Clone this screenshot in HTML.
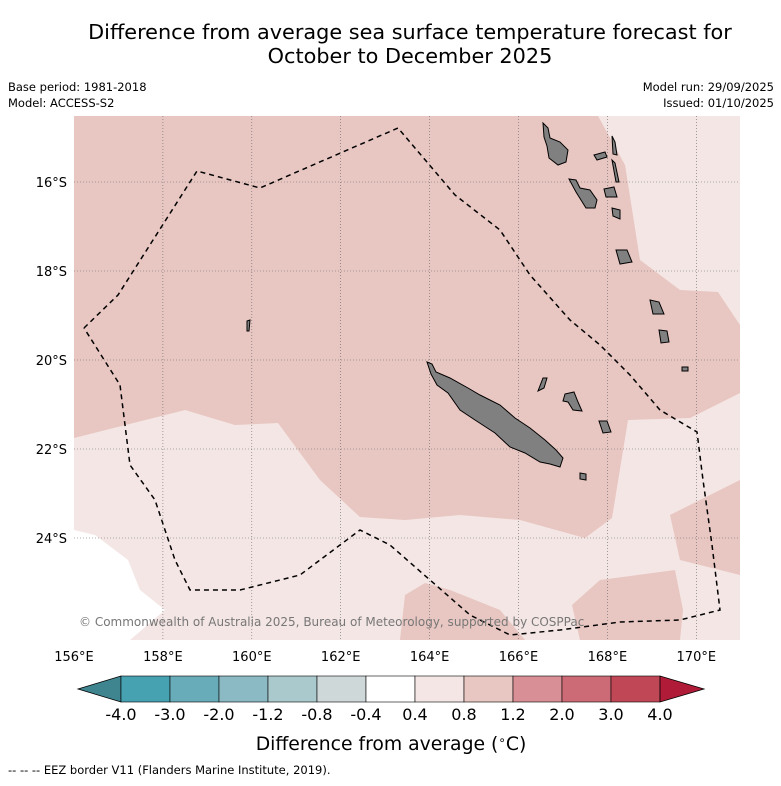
<!DOCTYPE html>
<html><head><meta charset="utf-8"><style>
body{margin:0;background:#fff;}
svg text{font-family:"DejaVu Sans","Liberation Sans",sans-serif;}
</style></head><body>
<svg width="781" height="781" viewBox="0 0 781 781">
<text x="410" y="39" font-size="20.8" text-anchor="middle">Difference from average sea surface temperature forecast for</text>
<text x="410" y="63" font-size="20.8" text-anchor="middle">October to December 2025</text>
<text x="8" y="91" font-size="11.5">Base period: 1981-2018</text>
<text x="8" y="107" font-size="11.5">Model: ACCESS-S2</text>
<text x="774" y="91" font-size="11.5" text-anchor="end">Model run: 29/09/2025</text>
<text x="774" y="107" font-size="11.5" text-anchor="end">Issued: 01/10/2025</text>
<defs><clipPath id="mc"><rect x="74" y="116" width="666" height="524"/></clipPath></defs>
<g id="map" clip-path="url(#mc)">
<rect x="74" y="116" width="666" height="524" fill="#f4e6e4"/>
<polygon fill="#e8c6c1" points="74,116 598,116 625,165 640,260 680,290 718,292 740,325 740,393 690,418 628,420 612,518 585,538 520,520 460,515 405,520 360,517 320,480 278,423 235,425 185,410 74,438"/>
<polygon fill="#e8c6c1" points="670,515 740,480 740,575 680,560"/>
<polygon fill="#e8c6c1" points="405,595 425,583 450,590 500,610 525,640 400,640"/>
<polygon fill="#e8c6c1" points="572,605 600,580 675,570 683,610 680,640 580,640"/>
<polygon fill="#ffffff" points="74,530 95,535 128,560 140,590 165,610 130,640 74,640"/>
<g id="grid" stroke="#666" stroke-width="0.6" stroke-dasharray="1,2"></g>
<g fill="#808080" stroke="#000" stroke-width="1">
<polygon points="427,362 432,364 436,372 450,378 468,388 480,395 500,405 515,418 530,428 545,440 556,450 563,458 560,467 550,464 540,462 525,453 510,447 495,433 475,420 460,410 448,393 437,385 431,374"/>
<polygon points="543,378 547,378 544,388 538,391"/>
<polygon points="565,394 574,392 578,402 582,411 573,410 568,402 563,401"/>
<polygon points="599,421 607,421 611,432 603,433"/>
<polygon points="580,473 586,474 586,480 580,479"/>
<polygon points="543,123 548,128 550,138 560,142 568,150 566,162 558,165 549,158 547,146 544,137"/>
<polygon points="569,179 576,180 580,188 590,190 597,200 595,208 586,208 581,200 576,192"/>
<polygon points="604,189 614,187 617,197 606,197"/>
<polygon points="612,136 615,142 617,155 613,154"/>
<polygon points="612,160 615,163 619,182 616,182"/>
<polygon points="594,155 605,152 607,157 597,160"/>
<polygon points="616,250 627,250 632,262 620,264"/>
<polygon points="612,208 620,210 620,219 613,216"/>
<polygon points="650,300 659,302 664,314 653,314"/>
<polygon points="659,330 667,331 669,342 661,343"/>
<polygon points="682,367 688,367 688,371 682,371"/>
<polygon points="247,321 250,320 249,331 247,331"/>
</g>
<polyline fill="none" stroke="#000" stroke-width="1.5" stroke-dasharray="5,4" points="84,328 118,295 197,171 260,188 398,128 455,195 500,230 530,275 570,320 600,345 630,375 660,410 697,432 703,480 712,545 720,610 680,620 620,622 560,630 510,635 470,615 430,580 390,545 360,530 340,545 300,575 240,590 190,590 175,560 155,500 130,465 120,385 84,328"/>
<text x="79" y="626" font-size="12" fill="#777">© Commonwealth of Australia 2025, Bureau of Meteorology, supported by COSPPac</text>
</g>
<g id="axes"></g>
<g id="cbar"></g>
<text x="391" y="750" font-size="18.8" text-anchor="middle">Difference from average (<tspan font-size="12" dy="-6">∘</tspan><tspan dy="6">C)</tspan></text>
<text x="8" y="774" font-size="11.5">--  --  -- EEZ border V11 (Flanders Marine Institute, 2019).</text>
</svg>
<script>
const lonTicks=[156,158,160,162,164,166,168,170];
const latTicks=[16,18,20,22,24];
const cbarLabels=["-4.0","-3.0","-2.0","-1.2","-0.8","-0.4","0.4","0.8","1.2","2.0","3.0","4.0"];
const cbarColors=["#46a1b1","#69acb9","#8cbac4","#aac9cc","#cfd8d9","#ffffff","#f4e6e4","#e8c6c1","#d88f95","#cc6a75","#c04856"];
const ns="http://www.w3.org/2000/svg";
const x=lon=>74+(lon-156)*44.45;
const y=lat=>182+(lat-16)*44.5;
const grid=document.getElementById('grid'),axes=document.getElementById('axes'),cb=document.getElementById('cbar');
function mk(tag,a,p){const e=document.createElementNS(ns,tag);for(const k in a)e.setAttribute(k,a[k]);p.appendChild(e);return e;}
lonTicks.forEach(l=>{
 if(l>156){const g=mk('line',{x1:x(l),x2:x(l),y1:116,y2:640},grid);
 
 }
 const t=mk('text',{x:x(l),y:661,'font-size':13,'text-anchor':'middle'},axes);t.textContent=l+'°E';
 
 
});
latTicks.forEach(l=>{
 const g=mk('line',{x1:74,x2:740,y1:y(l),y2:y(l)},grid);
 
 
 const t=mk('text',{x:67,y:y(l)+5,'font-size':13,'text-anchor':'end'},axes);t.textContent=l+'°S';
 
 
});
const cx0=121,cw=49,cy=676,ch=26;
const lt=mk('polygon',{points:`${cx0},${cy} ${cx0},${cy+ch} 78,${cy+ch/2}`,fill:'#3f8590',stroke:'#000','stroke-width':0.8},cb);


cbarColors.forEach((c,i)=>{
 const r=mk('rect',{x:cx0+i*cw,y:cy,width:cw,height:ch,fill:c,stroke:'#000','stroke-width':0.6},cb);
 
 
});
const xe=cx0+cbarColors.length*cw;
const rt=mk('polygon',{points:`${xe},${cy} ${xe},${cy+ch} 704,${cy+ch/2}`,fill:'#b01c38',stroke:'#000','stroke-width':0.8},cb);


cbarLabels.forEach((s,i)=>{
 const t=mk('text',{x:cx0+i*cw,y:720,'font-size':16,'text-anchor':'middle'},cb);t.textContent=s;
 
 
});
</script>
</body></html>
